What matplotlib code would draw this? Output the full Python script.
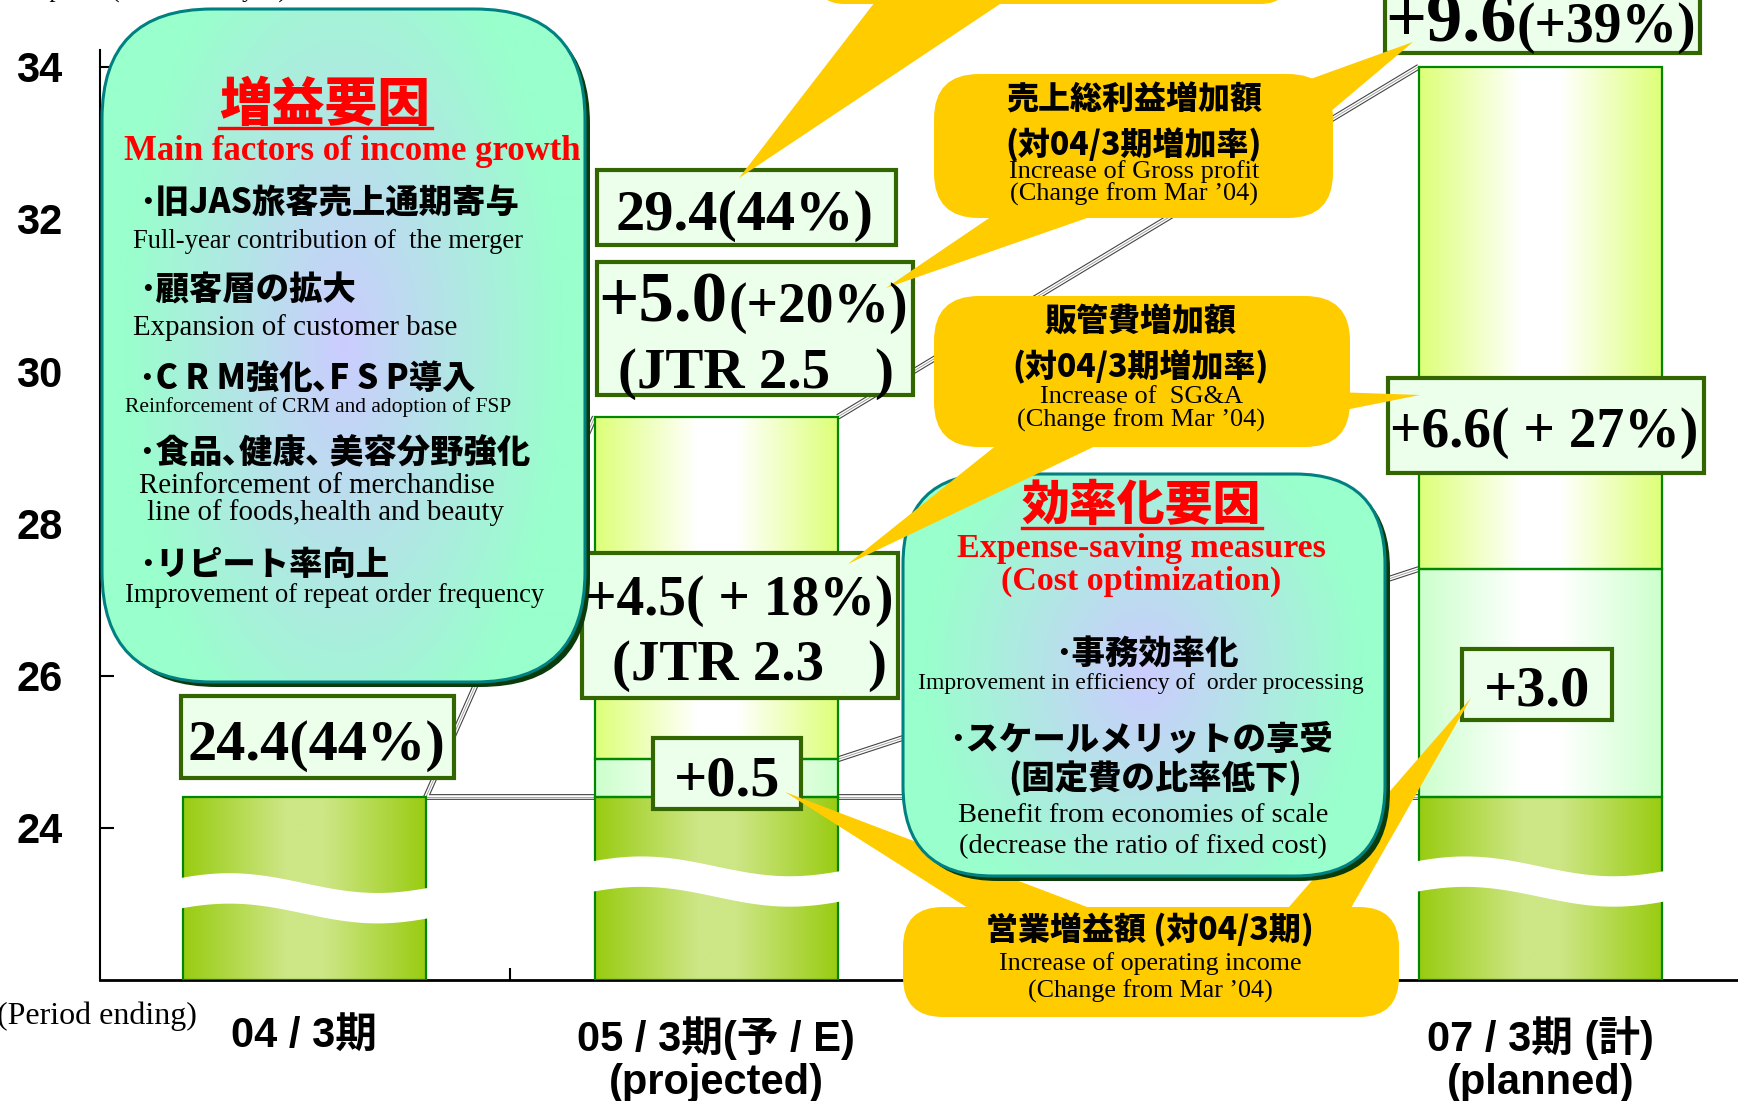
import numpy as np
import matplotlib.pyplot as plt
from matplotlib.patches import Rectangle, FancyBboxPatch, Polygon
from matplotlib.colors import LinearSegmentedColormap

# gross profit, 100 million yen
period_labels = ["04 / 3期", "05 / 3期(予 / E)\n(projected)", "07 / 3期 (計)\n(planned)"]
period_pos = [0, 1, 3]
base_profit = [24.4, 24.4, 24.4]   # 04/3 level carried forward
op_increase = [0.0, 0.5, 3.0]      # increase of operating income
gross_profit = [24.4, 29.4, 34.0]
y_ticks = [24, 26, 28, 30, 32, 34]
boundary_ticks = [0.5, 1.5, 2.5]

W, H = 1738, 1101
fig = plt.figure(figsize=(W / 100, H / 100), dpi=100)

SERIF = ["Liberation Serif", "DejaVu Serif"]
JP = ["Noto Sans CJK JP", "DejaVu Sans"]
SANS = ["Liberation Sans", "Noto Sans CJK JP"]

# ---------------- main axes: bars + connectors ----------------
ax = fig.add_axes([100 / W, (H - 980) / H, (W - 100) / W, (980 - 50) / H])
floor = 22.0
bar_w = 0.59


def cmap_of(edge, mid):
    return LinearSegmentedColormap.from_list(
        "g", [(0, edge), (0.42, mid), (0.58, mid), (1, edge)])


green = cmap_of("#99CC11", "#CDE686")
mint = cmap_of("#CCFFCC", "#FFFFFF")
yellow = cmap_of("#DDFF77", "#FFFFFF")
grad = np.linspace(0, 1, 256)[None, :]


def seg(x, y0, y1, cmap):
    if y1 <= y0:
        return
    ax.imshow(grad, cmap=cmap, extent=(x - bar_w / 2, x + bar_w / 2, y0, y1),
              aspect="auto", interpolation="bilinear", zorder=2)
    ax.add_patch(Rectangle((x - bar_w / 2, y0), bar_w, y1 - y0, fill=False,
                           ec="#008800", lw=1.6, zorder=3))


for x, b, op, g in zip(period_pos, base_profit, op_increase, gross_profit):
    seg(x, floor, b, green)
    seg(x, b, b + op, mint)
    seg(x, b + op, g, yellow)


def link(xs, ys):
    ax.plot(xs, ys, color="#444444", lw=4.2, zorder=1, solid_capstyle="butt")
    ax.plot(xs, ys, color="white", lw=2.6, zorder=1.1, solid_capstyle="butt")
    ax.plot(xs, ys, color="#999999", lw=0.6, zorder=1.2)


hw = bar_w / 2
link([period_pos[0] + hw, period_pos[2] - hw], [base_profit[0], base_profit[0]])
link([period_pos[0] + hw, period_pos[1] - hw], [gross_profit[0], gross_profit[1]])
link([period_pos[1] + hw, period_pos[2] - hw], [gross_profit[1], gross_profit[2]])
link([period_pos[1] + hw, period_pos[2] - hw],
     [base_profit[1] + op_increase[1], base_profit[2] + op_increase[2]])

# axis break waves
wave_mid = [23.08, 23.3, 23.3]
for x, c in zip(period_pos, wave_mid):
    xs = np.linspace(x - hw - 0.012, x + hw + 0.012, 120)
    u = (xs - (x - hw)) / bar_w
    off = 0.13 * np.cos(np.pi * (u - 0.19) / 0.61)
    ax.fill_between(xs, c - 0.2 + off, c + 0.2 + off, color="white", lw=0, zorder=4)

ax.set_xlim(-0.496, 3.48)
ax.set_ylim(floor, 34.22)
for s in ["top", "right"]:
    ax.spines[s].set_visible(False)
ax.spines["left"].set_linewidth(1.5)
ax.spines["bottom"].set_linewidth(2)
ax.set_yticks(y_ticks, [str(v) for v in y_ticks])
ax.tick_params(axis="y", direction="in", length=10, width=1.5, pad=27, labelsize=30)
for lab in ax.get_yticklabels():
    lab.set_family(SANS)
    lab.set_fontweight("bold")
ax.set_xticks(boundary_ticks, [])
ax.set_xticks(period_pos, period_labels, minor=True)
ax.tick_params(axis="x", which="major", direction="in", length=9, width=1.5)
ax.tick_params(axis="x", which="minor", length=0, pad=26, labelsize=30)
for lab in ax.get_xticklabels(minor=True):
    lab.set_family(SANS)
    lab.set_fontweight("bold")
    lab.set_linespacing(1.1)

# ---------------- overlay in pixel coordinates ----------------
ov = fig.add_axes([0, 0, 1, 1], zorder=5)
ov.patch.set_alpha(0)


def txt(x, y, s, size, fam, weight="normal", color="black", ha="center", va="center", z=8):
    ov.text(x, y, s, fontsize=size, family=fam, fontweight=weight, color=color,
            ha=ha, va=va, zorder=z)


def vbox(x0, y0, x1, y1):
    ov.add_patch(Rectangle((x0, y0), x1 - x0, y1 - y0, fc="#EBFFEB", ec="#336600",
                           lw=3, zorder=2))


def teal_box(x0, y0, x1, y1, r):
    style = f"round,pad=0,rounding_size={r}"
    ov.add_patch(FancyBboxPatch((x0 + 5, y0 + 5), x1 - x0, y1 - y0, boxstyle=style,
                                fc="#0B3B0B", ec="none", zorder=4))
    yy, xx = np.mgrid[0:1:200j, 0:1:200j]
    rr = np.sqrt(((xx - 0.5) / 0.5) ** 2 + (0.7 * (yy - 0.5) / 0.5) ** 2)
    t = np.clip(rr * 1.1, 0, 1)[..., None]
    lav = np.array([0.80, 0.80, 1.0])
    mn = np.array([0.60, 1.0, 0.80])
    img = lav * (1 - t) + mn * t
    im = ov.imshow(img, extent=(x0, x1, y1, y0), aspect="auto",
                   interpolation="bilinear", zorder=4.1)
    box = FancyBboxPatch((x0, y0), x1 - x0, y1 - y0, boxstyle=style,
                         fc="none", ec="#008080", lw=2.2, zorder=4.2)
    ov.add_patch(box)
    im.set_clip_path(box)


def callout(x0, y0, x1, y1, r=45, z=5):
    ov.add_patch(FancyBboxPatch((x0, y0), x1 - x0, y1 - y0,
                                boxstyle=f"round,pad=0,rounding_size={r}",
                                fc="#FFCC00", ec="none", zorder=z))


def pointer(pts, z=5):
    ov.add_patch(Polygon(pts, closed=True, fc="#FFCC00", ec="none", zorder=z))


# value boxes
vbox(181, 696, 454, 778)
txt(316, 760, "24.4(44%)", 42, SERIF, "bold", va="baseline")
vbox(597, 170, 896, 245)
txt(744, 230, "29.4(44%)", 42, SERIF, "bold", va="baseline")
vbox(597, 262, 913, 395)
txt(598, 322, "+5.0", 51, SERIF, "bold", ha="left", va="baseline")
txt(908, 322, "(+20%)", 40, SERIF, "bold", ha="right", va="baseline")
txt(618, 388, "(JTR 2.5", 41, SERIF, "bold", ha="left", va="baseline")
txt(893, 388, ")", 41, SERIF, "bold", ha="right", va="baseline")
vbox(582, 553, 898, 698)
txt(585, 615, "+4.5( + 18%)", 40, SERIF, "bold", ha="left", va="baseline")
txt(612, 680, "(JTR 2.3", 41, SERIF, "bold", ha="left", va="baseline")
txt(886, 680, ")", 41, SERIF, "bold", ha="right", va="baseline")
vbox(653, 738, 801, 809)
txt(727, 795, "+0.5", 42, SERIF, "bold", va="baseline")
vbox(1385, -30, 1700, 53)
txt(1385, 42, "+9.6", 52, SERIF, "bold", ha="left", va="baseline")
txt(1696, 42, "(+39%)", 40, SERIF, "bold", ha="right", va="baseline")
vbox(1388, 378, 1704, 473)
txt(1390, 447, "+6.6( + 27%)", 40, SERIF, "bold", ha="left", va="baseline")
vbox(1462, 649, 1612, 720)
txt(1537, 706, "+3.0", 42, SERIF, "bold", va="baseline")

# operating income callout (below the right teal box)
pointer([(979, 915), (1108, 915), (785, 792)], z=3)
pointer([(1282, 915), (1347, 915), (1471, 698)], z=3)
callout(903, 907, 1399, 1017, r=40, z=3)

# teal boxes
teal_box(102, 9, 585, 682, 110)
teal_box(903, 474, 1385, 876, 90)

# gross profit / SG&A callouts
callout(815, -150, 1290, 4, r=30)
pointer([(878, -2), (1009, -2), (739, 178)])
callout(934, 74, 1333, 218)
pointer([(1280, 90), (1330, 112), (1413, 42)])
pointer([(1001, 210), (1110, 210), (886, 288)])
callout(934, 296, 1350, 447)
pointer([(1335, 392), (1335, 412), (1420, 395)])
pointer([(1003, 440), (1108, 440), (848, 564)])

# left box text
txt(325, 105, "増益要因", 38, JP, "heavy", color="#FF0000")
ov.plot([219, 432], [128, 128], color="#FF0000", lw=2.4, zorder=8)
txt(352, 151, "Main factors of income growth", 25, SERIF, "bold", color="#FF0000")
txt(139, 203, "･旧JAS旅客売上通期寄与", 24, JP, "heavy", ha="left")
txt(133, 241, "Full-year contribution of  the merger", 19.2, SERIF, ha="left")
txt(139, 290, "･顧客層の拡大", 24, JP, "heavy", ha="left")
txt(133, 328, "Expansion of customer base", 20.8, SERIF, ha="left")
txt(139, 378, "･C R M強化､F S P導入", 24, JP, "heavy", ha="left")
txt(125, 407, "Reinforcement of CRM and adoption of FSP", 15.5, SERIF, ha="left")
txt(139, 453, "･食品､健康､ 美容分野強化", 24, JP, "heavy", ha="left")
txt(139, 486, "Reinforcement of merchandise", 20.8, SERIF, ha="left")
txt(147, 513, "line of foods,health and beauty", 20.8, SERIF, ha="left")
txt(139, 564, "･リピート率向上", 24, JP, "heavy", ha="left")
txt(125, 595, "Improvement of repeat order frequency", 19.2, SERIF, ha="left")

# right box text
txt(1141, 506, "効率化要因", 34.5, JP, "heavy", color="#FF0000")
ov.plot([1022, 1262], [528, 528], color="#FF0000", lw=2.4, zorder=8)
txt(1141, 549, "Expense-saving measures", 24.5, SERIF, "bold", color="#FF0000")
txt(1141, 581, "(Cost optimization)", 24.5, SERIF, "bold", color="#FF0000")
txt(1147, 653, "･事務効率化", 24, JP, "heavy")
txt(1141, 683, "Improvement in efficiency of  order processing", 17, SERIF)
txt(1141, 739, "･スケールメリットの享受", 24, JP, "heavy")
txt(1155, 778, "(固定費の比率低下)", 24, JP, "heavy")
txt(1143, 816, "Benefit from economies of scale", 20.5, SERIF)
txt(1143, 847, "(decrease the ratio of fixed cost)", 20.5, SERIF)

# callout text
txt(1134, 100, "売上総利益増加額", 23, JP, "heavy")
txt(1134, 145, "(対04/3期増加率)", 23, JP, "heavy")
txt(1134, 172, "Increase of Gross profit", 19, SERIF)
txt(1134, 194, "(Change from Mar ’04)", 19, SERIF)
txt(1141, 322, "販管費増加額", 23, JP, "heavy")
txt(1141, 367, "(対04/3期増加率)", 23, JP, "heavy")
txt(1141, 397, "Increase of  SG&A", 19, SERIF)
txt(1141, 420, "(Change from Mar ’04)", 19, SERIF)
txt(1150, 930, "営業増益額 (対04/3期)", 23, JP, "heavy")
txt(1150, 964, "Increase of operating income", 18.7, SERIF)
txt(1150, 991, "(Change from Mar ’04)", 18.7, SERIF)

txt(-3, 1016, "(Period ending)", 23, SERIF, ha="left")
txt(-15, -2, "Gross profit (100 million yen)", 18, SERIF, ha="left", va="baseline")

ov.set_xlim(0, W)
ov.set_ylim(H, 0)
ov.axis("off")

fig.savefig("out.png", dpi=100)
